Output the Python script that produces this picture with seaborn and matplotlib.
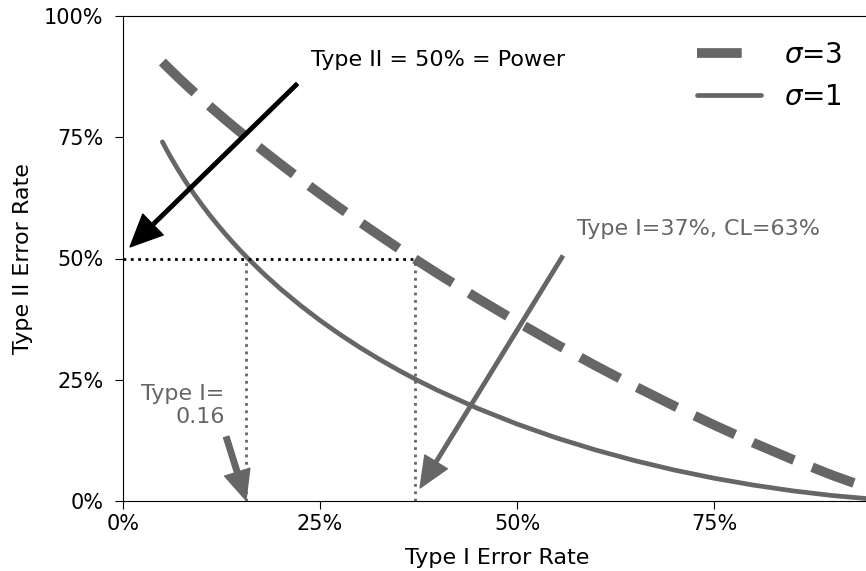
import numpy as np
import pandas as pd
import seaborn as sns
import matplotlib.pyplot as plt
from matplotlib.ticker import PercentFormatter

# type I error rate (alpha) and the type II error rate
type1 = [0.05, 0.055, 0.06, 0.07, 0.08, 0.09, 0.10, 0.11, 0.12, 0.13, 0.14,
         0.15, 0.16, 0.18, 0.20, 0.225, 0.25, 0.275, 0.30, 0.325, 0.35,
         0.375, 0.40, 0.45, 0.50, 0.55, 0.60, 0.65, 0.70, 0.75, 0.80,
         0.85, 0.90, 0.95]
type2_sigma1 = [0.7405, 0.7251, 0.7105, 0.6829, 0.6573, 0.6334, 0.6109,
                0.5896, 0.5695, 0.5503, 0.5320, 0.5145, 0.4978, 0.4663,
                0.4371, 0.4034, 0.3724, 0.3438, 0.3172, 0.2925, 0.2694,
                0.2478, 0.2276, 0.1910, 0.1587, 0.1301, 0.1051, 0.0830,
                0.0637, 0.0470, 0.0328, 0.0209, 0.0113, 0.0041]
type2_sigma3 = [0.9052, 0.8970, 0.8891, 0.8734, 0.8581, 0.8432, 0.8285,
                0.8141, 0.8000, 0.7861, 0.7725, 0.7590, 0.7458, 0.7197,
                0.6944, 0.6635, 0.6335, 0.6043, 0.5758, 0.5480, 0.5207,
                0.4941, 0.4681, 0.4178, 0.3694, 0.3231, 0.2787, 0.2362,
                0.1955, 0.1568, 0.1200, 0.0854, 0.0532, 0.0240]

# reference points marked on the chart
power_level = 0.5
alpha_sigma1 = 0.156
alpha_sigma3 = 0.37

df1 = pd.DataFrame({'alpha': type1, 'beta': type2_sigma1})
df3 = pd.DataFrame({'alpha': type1, 'beta': type2_sigma3})

sns.set_style('ticks')
plt.rcParams['font.family'] = ['DejaVu Sans']
plt.rcParams['text.color'] = 'black'
plt.rcParams['axes.labelcolor'] = 'black'
plt.rcParams['xtick.color'] = 'black'
plt.rcParams['ytick.color'] = 'black'
grey = '#666666'
fs = 16

fig = plt.figure(figsize=(8.66, 5.71), dpi=100)
ax = fig.add_axes([123 / 866, 70 / 571, 748.6 / 866, 485 / 571])

sns.lineplot(data=df3, x='alpha', y='beta', ax=ax, color=grey, lw=7,
             label=r'$\sigma$=3')
sns.lineplot(data=df1, x='alpha', y='beta', ax=ax, color=grey, lw=3.4,
             label=r'$\sigma$=1')
ax.lines[0].set_linestyle((0, (4.6, 2.0)))

# dotted guides
ax.hlines(power_level, 0, alpha_sigma3, colors='black', linestyles=':', lw=2)
ax.vlines([alpha_sigma1, alpha_sigma3], 0, power_level, colors=grey,
          linestyles=':', lw=2)

# arrows and notes
ax.annotate('', xy=(0.009, 0.524), xytext=(0.221, 0.860),
            arrowprops=dict(facecolor='black', edgecolor='black', width=2.5,
                            headwidth=21, headlength=23))
ax.text(0.239, 0.909, 'Type II = 50% = Power', ha='left', va='center',
        fontsize=fs)

ax.annotate('', xy=(0.377, 0.027), xytext=(0.558, 0.505),
            arrowprops=dict(facecolor=grey, edgecolor=grey, width=2.5,
                            headwidth=19, headlength=22))
ax.text(0.576, 0.561, 'Type I=37%, CL=63%', ha='left', va='center',
        fontsize=fs, color=grey)

ax.annotate('', xy=(0.156, 0.002), xytext=(0.131, 0.132),
            arrowprops=dict(facecolor=grey, edgecolor=grey, width=4,
                            headwidth=19, headlength=21))
ax.text(0.129, 0.197, 'Type I=\n0.16', ha='right', va='center',
        fontsize=fs, color=grey, multialignment='right', linespacing=1.15)

ax.set_xlim(0, 0.95)
ax.set_ylim(0, 1)
ax.set_xticks([0, 0.25, 0.5, 0.75])
ax.set_yticks([0, 0.25, 0.5, 0.75, 1.0])
ax.xaxis.set_major_formatter(PercentFormatter(1.0, decimals=0))
ax.yaxis.set_major_formatter(PercentFormatter(1.0, decimals=0))
ax.tick_params(labelsize=15, length=6, color='black')
ax.tick_params(axis='y', pad=8)
for s in ax.spines.values():
    s.set_color('black')
ax.set_xlabel('Type I Error Rate', fontsize=fs, labelpad=10)
ax.set_ylabel('Type II Error Rate', fontsize=fs, labelpad=8)

ax.legend(loc='upper left', bbox_to_anchor=(0.734, 1.0), frameon=False,
          fontsize=20, handlelength=2.3)

fig.savefig('out.png', dpi=100)
